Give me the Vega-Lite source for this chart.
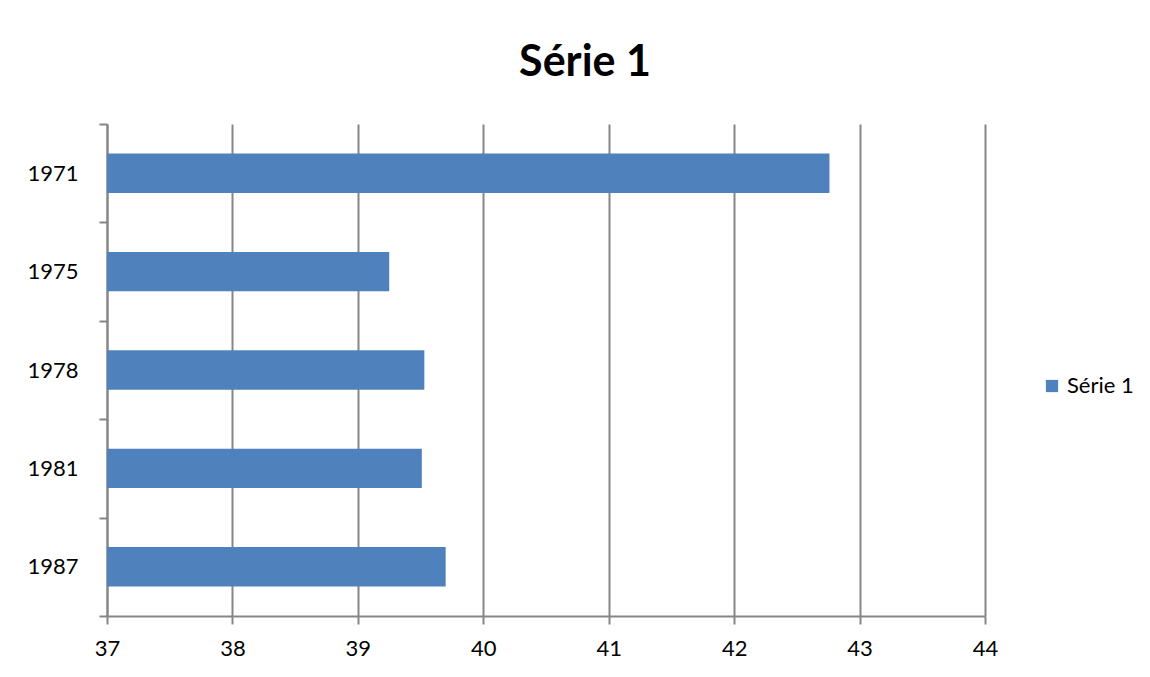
{
  "$schema": "https://vega.github.io/schema/vega-lite/v6.json",
  "autosize": "none",
  "width": 878,
  "height": 492,
  "padding": {"left": 107, "top": 124, "right": 165, "bottom": 61},
  "background": "white",
  "title": {"text": "Série 1", "fontSize": 43, "font": "Lato", "fontWeight": "bold", "color": "#000000", "anchor": "middle", "dx": 39, "offset": 28},
  "data": {"values": [
    {"year": "1971", "value": 42.76, "series": "Série 1"},
    {"year": "1975", "value": 39.25, "series": "Série 1"},
    {"year": "1978", "value": 39.53, "series": "Série 1"},
    {"year": "1981", "value": 39.51, "series": "Série 1"},
    {"year": "1987", "value": 39.70, "series": "Série 1"}
  ]},
  "mark": {"type": "bar", "height": {"band": 0.4}},
  "encoding": {
    "y": {"field": "year", "type": "nominal", "sort": null, "title": null,
      "scale": {"paddingInner": 0, "paddingOuter": 0},
      "axis": {"tickBand": "extent", "tickSize": 8, "tickColor": "#868686", "tickWidth": 2, "domainColor": "#868686", "domainWidth": 2, "labelFontSize": 22, "labelFont": "Lato", "labelColor": "#000000", "labelPadding": 21, "grid": false}},
    "x": {"field": "value", "type": "quantitative", "title": null,
      "scale": {"domain": [37, 44], "zero": false, "nice": false},
      "axis": {"values": [37, 38, 39, 40, 41, 42, 43, 44], "labelFlush": false, "tickSize": 8, "tickColor": "#868686", "tickWidth": 2, "domainColor": "#868686", "domainWidth": 2, "grid": true, "gridColor": "#868686", "gridWidth": 2, "labelFontSize": 22, "labelFont": "Lato", "labelColor": "#000000", "labelPadding": 14}},
    "x2": {"datum": 37},
    "color": {"field": "series", "type": "nominal", "title": null,
      "scale": {"range": ["#4F81BD"]},
      "legend": {"orient": "none", "legendX": 934, "legendY": 251, "symbolType": "square", "symbolSize": 150, "labelFontSize": 22, "labelFont": "Lato", "labelColor": "#000000", "labelOffset": 4}}
  },
  "config": {"view": {"stroke": null}}
}
